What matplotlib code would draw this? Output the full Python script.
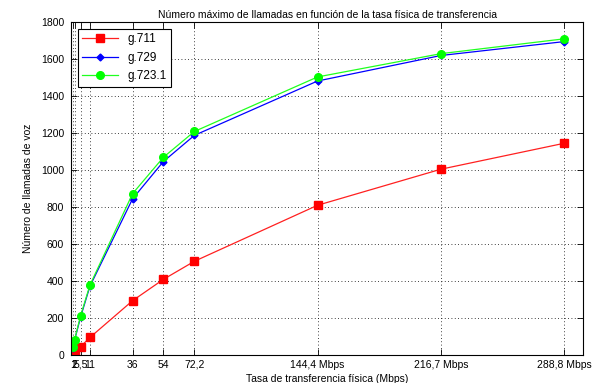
import matplotlib.pyplot as plt

plt.rcParams['font.family'] = ['Liberation Sans', 'DejaVu Sans']

# tasa fisica (Mbps) y llamadas maximas por codec
tasa = [1, 2, 5.5, 11, 36, 54, 72.2, 144.4, 216.7, 288.8]
g711 = [8, 16, 45, 95, 294, 409, 507, 810, 1005, 1145]
g729 = [40, 80, 205, 372, 845, 1046, 1188, 1482, 1620, 1695]
g7231 = [42, 82, 212, 378, 873, 1069, 1209, 1504, 1630, 1710]

xticks = [1, 2, 5.5, 11, 36, 54, 72.2, 144.4, 216.7, 288.8]
xticklabels = ['1', '2', '5,5', '11', '36', '54', '72,2',
               '144,4 Mbps', '216,7 Mbps', '288,8 Mbps']

fig = plt.figure(figsize=(5.98, 3.83), dpi=100)
ax = fig.add_axes([0.119, 0.073, 0.856, 0.869])

ax.plot(tasa, g711, color='#ff2020', marker='s', markersize=6, linewidth=0.9,
        markeredgecolor='#ff0000', markerfacecolor='#ff0000', label='g.711')
ax.plot(tasa, g729, color='#0000ff', marker='D', markersize=3.5, linewidth=0.9,
        label='g.729')
ax.plot(tasa, g7231, color='#20ff20', marker='o', markersize=5.5, linewidth=0.9,
        markeredgecolor='#00ff00', markerfacecolor='#00ff00', label='g.723.1')

ax.set_xlim(0, 300)
ax.set_ylim(0, 1800)
ax.set_xticks(xticks)
ax.set_xticklabels(xticklabels)
ax.set_yticks(range(0, 1801, 200))

ax.grid(True, color='black', linestyle=(0, (1, 3)), linewidth=0.6)
ax.tick_params(direction='in', top=True, right=True, labelsize=7.5,
               length=4, width=0.6)
ax.tick_params(axis='y', pad=5)
for s in ax.spines.values():
    s.set_linewidth(0.8)

ax.set_title('Número máximo de llamadas en función de la tasa física de transferencia',
             fontsize=7.5, pad=3)
ax.set_xlabel('Tasa de transferencia física (Mbps)', fontsize=7.5, labelpad=3)
ax.set_ylabel('Número de llamadas de voz', fontsize=7.5, labelpad=6)

leg = ax.legend(loc='upper left', fontsize=8.5, fancybox=False, edgecolor='black',
                framealpha=1, handlelength=3.0, borderpad=0.35, labelspacing=0.55,
                borderaxespad=0.6)
leg.get_frame().set_linewidth(0.8)

fig.savefig('out.png', dpi=100)
